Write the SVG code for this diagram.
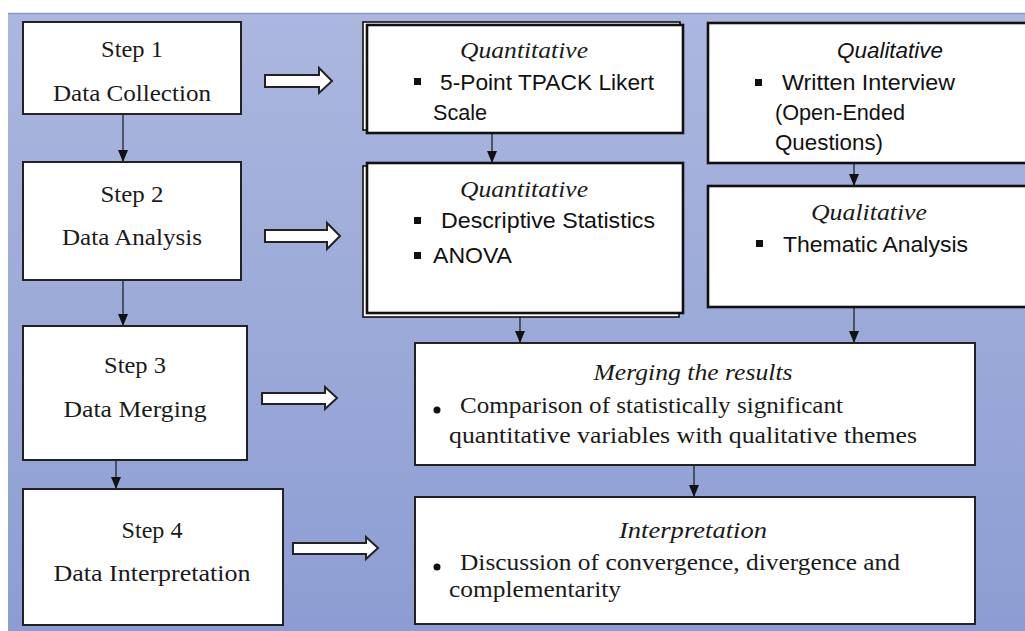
<svg xmlns="http://www.w3.org/2000/svg" width="1025" height="631" viewBox="0 0 1025 631">
<defs>
<linearGradient id="bg" x1="0" y1="0" x2="0" y2="1">
<stop offset="0" stop-color="#abb7de"/>
<stop offset="1" stop-color="#8d9dd3"/>
</linearGradient>
<marker id="ah" viewBox="0 0 12 10" refX="12" refY="5" markerWidth="12" markerHeight="10" markerUnits="userSpaceOnUse" orient="auto">
<path d="M0,0 L12,5 L0,10 z" fill="#111"/>
</marker>
<style>
.step{fill:#fff;stroke:#222;stroke-width:2}
.box{fill:#fff;stroke:#111;stroke-width:2.6}
.back{fill:#fff;stroke:#111;stroke-width:1.6}
.hollow{fill:#fff;stroke:#222;stroke-width:2;stroke-linejoin:miter}
.conn{stroke:#222;stroke-width:1.3;fill:none;marker-end:url(#ah)}
.serif{font-family:"Liberation Serif","Times New Roman",serif;font-size:23px;fill:#1a1a1a}
.ital{font-family:"Liberation Serif","Times New Roman",serif;font-size:24px;font-style:italic;fill:#1a1a1a}
.sans{font-family:"Liberation Sans",Arial,sans-serif;font-size:22px;fill:#111}
.sansi{font-family:"Liberation Sans",Arial,sans-serif;font-size:22px;font-style:italic;fill:#111}
.mid{text-anchor:middle}
.bul{fill:#111}
</style>
</defs>
<rect x="0" y="0" width="1025" height="631" fill="#fff"/>
<rect x="8" y="13" width="1017" height="618" fill="url(#bg)"/>
<line x1="8" y1="13.5" x2="1025" y2="13.5" stroke="#8396cf" stroke-width="1.5"/>

<g id="connectors">
<line class="conn" x1="123" y1="114" x2="123" y2="162"/>
<line class="conn" x1="123" y1="280" x2="123" y2="326"/>
<line class="conn" x1="116" y1="460" x2="116" y2="489"/>
<line class="conn" x1="492" y1="134" x2="492" y2="163"/>
<line class="conn" x1="854" y1="163" x2="854" y2="186"/>
<line class="conn" x1="520" y1="317" x2="520" y2="343"/>
<line class="conn" x1="854" y1="307" x2="854" y2="343"/>
<line class="conn" x1="694" y1="465" x2="694" y2="497"/>
<polygon class="hollow" points="265,75 319,75 319,68 332,81 319,93 319,87 265,87"/>
<polygon class="hollow" points="265,230 327,230 327,223 340,236 327,249 327,242 265,242"/>
<polygon class="hollow" points="262,393 325,393 325,387 337,398 325,409 325,404 262,404"/>
<polygon class="hollow" points="293,543 366,543 366,537 378,548 366,559 366,554 293,554"/>
</g>

<g id="step1">
<rect class="step" x="23" y="22" width="218" height="92"/>
<text class="serif mid" x="132" y="57" textLength="62" lengthAdjust="spacingAndGlyphs">Step 1</text>
<text class="serif mid" x="132" y="101" textLength="158" lengthAdjust="spacingAndGlyphs">Data Collection</text>
</g>
<g id="step2">
<rect class="step" x="23" y="162" width="218" height="118"/>
<text class="serif mid" x="132" y="202" textLength="63" lengthAdjust="spacingAndGlyphs">Step 2</text>
<text class="serif mid" x="132" y="245" textLength="140" lengthAdjust="spacingAndGlyphs">Data Analysis</text>
</g>
<g id="step3">
<rect class="step" x="23" y="326" width="224" height="134"/>
<text class="serif mid" x="135" y="373" textLength="62" lengthAdjust="spacingAndGlyphs">Step 3</text>
<text class="serif mid" x="135" y="417" textLength="143" lengthAdjust="spacingAndGlyphs">Data Merging</text>
</g>
<g id="step4">
<rect class="step" x="23" y="489" width="260" height="136"/>
<text class="serif mid" x="152" y="538" textLength="61" lengthAdjust="spacingAndGlyphs">Step 4</text>
<text class="serif mid" x="152" y="581" textLength="197" lengthAdjust="spacingAndGlyphs">Data Interpretation</text>
</g>

<g id="quant1">
<rect class="back" x="363" y="22" width="317" height="108"/>
<rect class="box" x="367" y="25" width="316" height="108"/>
<text class="ital mid" x="524" y="58" textLength="128" lengthAdjust="spacingAndGlyphs">Quantitative</text>
<rect class="bul" x="414" y="78" width="7" height="7"/>
<text class="sans" x="440" y="90" textLength="214" lengthAdjust="spacingAndGlyphs">5-Point TPACK Likert</text>
<text class="sans" x="433" y="120" textLength="54" lengthAdjust="spacingAndGlyphs">Scale</text>
</g>

<g id="qual1">
<rect class="box" x="708" y="23" width="330" height="140"/>
<text class="sansi mid" x="890" y="58" textLength="106" lengthAdjust="spacingAndGlyphs">Qualitative</text>
<rect class="bul" x="755" y="79" width="7" height="7"/>
<text class="sans" x="782" y="90" textLength="173" lengthAdjust="spacingAndGlyphs">Written Interview</text>
<text class="sans" x="775" y="120" textLength="130" lengthAdjust="spacingAndGlyphs">(Open-Ended</text>
<text class="sans" x="775" y="150" textLength="108" lengthAdjust="spacingAndGlyphs">Questions)</text>
</g>

<g id="quant2">
<rect class="back" x="363" y="166" width="316" height="151"/>
<rect class="box" x="367" y="163" width="316" height="150"/>
<text class="ital mid" x="524" y="197" textLength="128" lengthAdjust="spacingAndGlyphs">Quantitative</text>
<rect class="bul" x="414" y="217" width="7" height="7"/>
<text class="sans" x="441" y="228" textLength="214" lengthAdjust="spacingAndGlyphs">Descriptive Statistics</text>
<rect class="bul" x="414" y="252" width="7" height="7"/>
<text class="sans" x="433" y="263" textLength="79" lengthAdjust="spacingAndGlyphs">ANOVA</text>
</g>

<g id="qual2">
<rect class="box" x="708" y="186" width="330" height="121"/>
<text class="ital mid" x="869" y="220" textLength="116" lengthAdjust="spacingAndGlyphs">Qualitative</text>
<rect class="bul" x="756" y="240" width="7" height="7"/>
<text class="sans" x="783" y="252" textLength="185" lengthAdjust="spacingAndGlyphs">Thematic Analysis</text>
</g>

<g id="merging">
<rect class="step" x="415" y="343" width="560" height="122"/>
<text class="ital mid" x="693" y="380" textLength="199" lengthAdjust="spacingAndGlyphs">Merging the results</text>
<circle class="bul" cx="437" cy="410" r="3.5"/>
<text class="serif" x="460" y="413" textLength="383" lengthAdjust="spacingAndGlyphs">Comparison of statistically significant</text>
<text class="serif" x="449" y="443" textLength="468" lengthAdjust="spacingAndGlyphs">quantitative variables with qualitative themes</text>
</g>

<g id="interpretation">
<rect class="step" x="415" y="497" width="560" height="127"/>
<text class="ital mid" x="693" y="538" textLength="148" lengthAdjust="spacingAndGlyphs">Interpretation</text>
<circle class="bul" cx="437" cy="567" r="3.5"/>
<text class="serif" x="460" y="570" textLength="440" lengthAdjust="spacingAndGlyphs">Discussion of convergence, divergence and</text>
<text class="serif" x="449" y="597" textLength="172" lengthAdjust="spacingAndGlyphs">complementarity</text>
</g>
</svg>
